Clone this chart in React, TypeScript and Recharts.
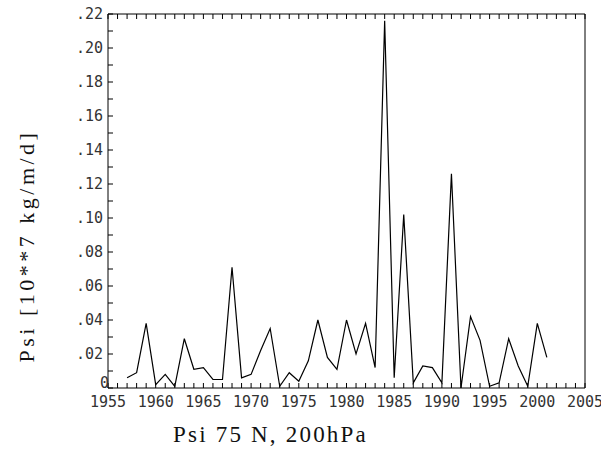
import React from 'react';
import { LineChart, Line, XAxis, YAxis } from 'recharts';

const years = [
  1957, 1958, 1959, 1960, 1961, 1962, 1963, 1964, 1965, 1966, 1967, 1968, 1969,
  1970, 1971, 1972, 1973, 1974, 1975, 1976, 1977, 1978, 1979, 1980, 1981, 1982,
  1983, 1984, 1985, 1986, 1987, 1988, 1989, 1990, 1991, 1992, 1993, 1994, 1995,
  1996, 1997, 1998, 1999, 2000, 2001,
];

const psi = [
  0.006, 0.009, 0.038, 0.002, 0.008, 0.001, 0.029, 0.011, 0.012, 0.005, 0.005,
  0.071, 0.006, 0.008, 0.022, 0.035, 0.001, 0.009, 0.004, 0.016, 0.04, 0.018,
  0.011, 0.04, 0.02, 0.038, 0.012, 0.216, 0.006, 0.102, 0.003, 0.013, 0.012,
  0.003, 0.126, 0.0, 0.042, 0.028, 0.001, 0.003, 0.029, 0.013, 0.001, 0.038,
  0.018,
];

// yearly ticks, labelled every 5 years
const xTicks = Array.from({ length: 51 }, (_, i) => 1955 + i);
const xLabels = ['1955', '1960', '1965', '1970', '1975', '1980', '1985', '1990', '1995', '2000', '2005'];

// ticks every .01, labelled every .02
const yTicks = [
  0, 0.01, 0.02, 0.03, 0.04, 0.05, 0.06, 0.07, 0.08, 0.09, 0.1, 0.11, 0.12, 0.13,
  0.14, 0.15, 0.16, 0.17, 0.18, 0.19, 0.2, 0.21, 0.22,
];
const yLabels = ['0', '.02', '.04', '.06', '.08', '.10', '.12', '.14', '.16', '.18', '.20', '.22'];

const data = years.map((year, i) => ({ year, psi: psi[i] }));

const tickFont = { fontFamily: 'DejaVu Sans Mono', fontSize: 15, fill: '#333' };
const serif = { fontFamily: 'Liberation Serif', color: '#111' };

const xFormat = (v: number) => {
  const s = String(v);
  return xLabels.includes(s) ? s : '';
};

const yFormat = (v: number) => {
  const k = Math.round(v * 100);
  return k % 2 === 0 ? yLabels[k / 2] : '';
};

// the zero label sits up against the corner, as in the original plot
const YTick = (props: any) => {
  const { x, y, payload } = props;
  const label = yFormat(payload.value);
  if (!label) return null;
  const isZero = payload.value === 0;
  return (
    <text
      x={isZero ? x + 6 : x}
      y={isZero ? y - 5 : y}
      dy="0.36em"
      textAnchor="end"
      {...tickFont}
    >
      {label}
    </text>
  );
};

export default function App() {
  return (
    <div style={{ position: 'absolute', left: 0, top: 0, width: 601, height: 449, background: '#fff' }}>
      <LineChart
        width={601}
        height={449}
        data={data}
        margin={{ top: 12, right: 14, bottom: 31, left: 48 }}
      >
        <XAxis
          dataKey="year"
          type="number"
          domain={[1955, 2005]}
          ticks={xTicks}
          interval={0}
          tickFormatter={xFormat}
          tickSize={-5}
          tickMargin={13}
          height={30}
          stroke="#000"
          tick={tickFont}
        />
        <XAxis
          xAxisId="top"
          orientation="top"
          dataKey="year"
          type="number"
          domain={[1955, 2005]}
          ticks={xTicks}
          interval={0}
          tickFormatter={() => ''}
          tickSize={-5}
          height={2}
          stroke="#000"
        />
        <YAxis
          type="number"
          domain={[0, 0.22]}
          ticks={yTicks}
          interval={0}
          tickSize={-5}
          tickMargin={10}
          width={60}
          stroke="#000"
          tick={<YTick />}
        />
        <YAxis
          yAxisId="right"
          orientation="right"
          type="number"
          domain={[0, 0.22]}
          ticks={yTicks}
          interval={0}
          tickFormatter={() => ''}
          tickSize={-5}
          width={2}
          stroke="#000"
        />
        <Line
          type="linear"
          dataKey="psi"
          stroke="#000"
          strokeWidth={1.2}
          dot={false}
          isAnimationActive={false}
        />
      </LineChart>

      <div
        style={{
          ...serif,
          fontSize: 22,
          position: 'absolute',
          left: 27 - 150,
          top: 246 - 12,
          width: 300,
          height: 24,
          lineHeight: '24px',
          textAlign: 'center',
          letterSpacing: 3.5,
          whiteSpace: 'nowrap',
          transform: 'rotate(-90deg)',
        }}
      >
        Psi [10**7 kg/m/d]
      </div>

      <div
        style={{
          ...serif,
          fontSize: 23,
          position: 'absolute',
          left: 173,
          top: 423,
          lineHeight: '23px',
          letterSpacing: 2.2,
          whiteSpace: 'nowrap',
        }}
      >
        Psi 75 N, 200hPa
      </div>
    </div>
  );
}
